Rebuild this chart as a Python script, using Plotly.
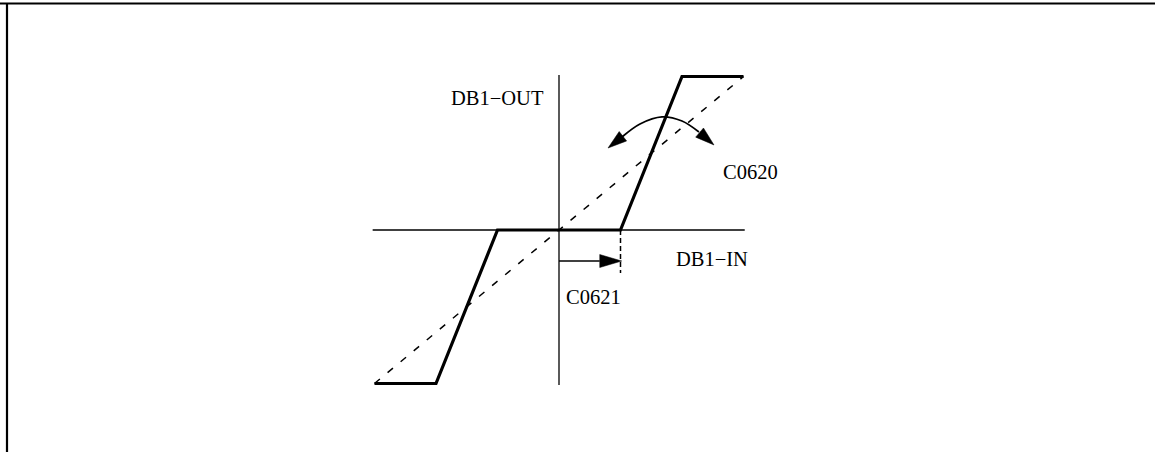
import math
import plotly.graph_objects as go

# Dead-band characteristic (DB1-IN -> DB1-OUT), in normalised units
char_in = [-3, -2, -1, 1, 2, 3]
char_out = [-1, -1, 0, 0, 1, 1]
# Linear reference (gain 1, no dead band)
ref_in = [-3, 3]
ref_out = [-1, 1]
# Axes extents
axis_x = [-3.03, 3.02]
axis_y = [-1.01, 1.01]
# Dead band marker (C0621)
deadband = 1.0
deadband_marker_y = -0.28
deadband_arrow_y = -0.202
# Gain-adjust arc (C0620)
arc_x = [1.024, 1.317, 1.675, 2.000, 2.276]
arc_y = [0.606, 0.691, 0.737, 0.710, 0.638]
arc_tips_x = [0.797, 2.520]
arc_tips_y = [0.534, 0.554]
# Labels
labels = ["DB1\u2212OUT", "C0620", "DB1\u2212IN", "C0621"]
label_x = [-0.992, 3.106, 2.488, 0.553]
label_y = [0.860, 0.378, -0.189, -0.436]

W, H = 1155, 452
x0px, y0px, sx, sy = 559, 230, 61.5, 153.5
blk = "#000000"


def to_px(x, y):
    return x0px + x * sx, y0px - y * sy


def to_data(px, py):
    return (px - x0px) / sx, (y0px - py) / sy


def head(tip, tail, length, width):
    tx, ty = to_px(*tip)
    bx, by = to_px(*tail)
    dx, dy = tx - bx, ty - by
    n = math.hypot(dx, dy)
    ux, uy = dx / n, dy / n
    cx, cy = tx - ux * length, ty - uy * length
    px_, py_ = -uy * width / 2, ux * width / 2
    pts = [(tx, ty), (cx + px_, cy + py_), (cx - px_, cy - py_), (tx, ty)]
    d = [to_data(a, b) for a, b in pts]
    return [p[0] for p in d], [p[1] for p in d]


fig = go.Figure()
# axes
fig.add_trace(go.Scatter(x=axis_x, y=[0, 0], mode="lines", line=dict(color=blk, width=1.3), hoverinfo="skip"))
fig.add_trace(go.Scatter(x=[0, 0], y=axis_y, mode="lines", line=dict(color=blk, width=1.3), hoverinfo="skip"))
# reference dashed
fig.add_trace(go.Scatter(x=ref_in, y=ref_out, mode="lines", line=dict(color=blk, width=1.5, dash="7px,10px"), hoverinfo="skip"))
# dead band vertical marker
fig.add_trace(go.Scatter(x=[deadband, deadband], y=[0, deadband_marker_y], mode="lines", line=dict(color=blk, width=1.5, dash="5px,3px"), hoverinfo="skip"))
# characteristic
fig.add_trace(go.Scatter(x=char_in, y=char_out, mode="lines", line=dict(color=blk, width=3.2), hoverinfo="skip"))
# arc
fig.add_trace(go.Scatter(x=arc_x, y=arc_y, mode="lines", line=dict(color=blk, width=1.8, shape="spline"), hoverinfo="skip"))
# arc heads
for i, j in ((0, 0), (1, -1)):
    hx, hy = head((arc_tips_x[i], arc_tips_y[i]), (arc_x[j], arc_y[j]), 19, 12)
    fig.add_trace(go.Scatter(x=hx, y=hy, mode="lines", fill="toself", fillcolor=blk,
                             line=dict(color=blk, width=0.5), hoverinfo="skip"))
# dead band arrow
hx, hy = head((deadband + 0.02, deadband_arrow_y), (0, deadband_arrow_y), 22, 13)
fig.add_trace(go.Scatter(x=[0, hx[1]], y=[deadband_arrow_y, deadband_arrow_y], mode="lines",
                         line=dict(color=blk, width=1.5), hoverinfo="skip"))
fig.add_trace(go.Scatter(x=hx, y=hy, mode="lines", fill="toself", fillcolor=blk,
                         line=dict(color=blk, width=0.5), hoverinfo="skip"))

ann = []
for t, lx, ly in zip(labels, label_x, label_y):
    ann.append(dict(x=lx, y=ly, xref="x", yref="y", text=t, showarrow=False,
                    font=dict(family="Liberation Serif", size=20.5, color=blk)))

fig.update_layout(
    width=W, height=H, margin=dict(l=0, r=0, t=0, b=0),
    paper_bgcolor="white", plot_bgcolor="white", showlegend=False,
    xaxis=dict(range=[-x0px / sx, (W - x0px) / sx], visible=False, fixedrange=True),
    yaxis=dict(range=[-(H - y0px) / sy, y0px / sy], visible=False, fixedrange=True),
    annotations=ann,
    shapes=[
        dict(type="line", xref="paper", yref="paper", x0=0, x1=1, y0=1 - 3.5 / H, y1=1 - 3.5 / H,
             line=dict(color=blk, width=2.2)),
        dict(type="line", xref="paper", yref="paper", x0=7 / W, x1=7 / W, y0=0, y1=1 - 3.5 / H,
             line=dict(color=blk, width=2.2)),
    ],
)
fig.write_html("out.html", config=dict(displayModeBar=False),
               post_script="document.body.style.margin='0px';document.body.style.overflow='hidden';")
